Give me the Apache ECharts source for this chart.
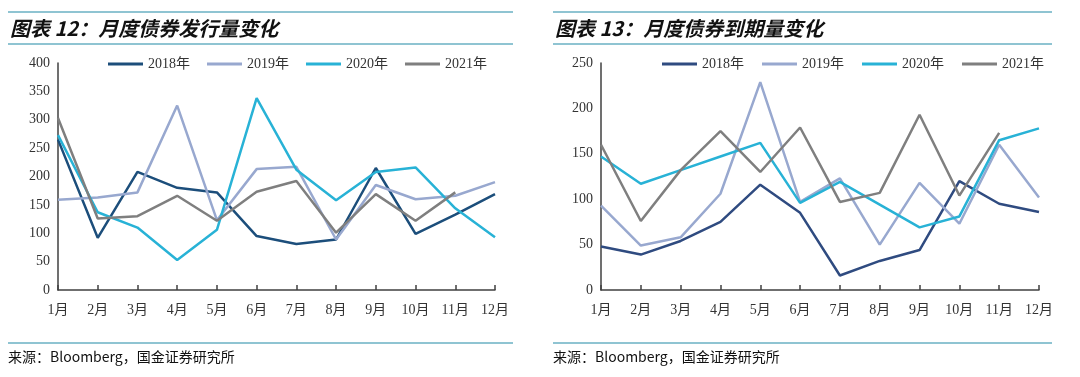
<!DOCTYPE html>
<html><head><meta charset="utf-8">
<script src="https://cdn.jsdelivr.net/npm/echarts@6/dist/echarts.min.js"></script>
<style>html,body{margin:0;padding:0;background:#fff}#c{width:1080px;height:377px}</style>
</head><body><div id="c"></div>
<script>
const months = ['1月','2月','3月','4月','5月','6月','7月','8月','9月','10月','11月','12月'];
const years = ['2018年','2019年','2020年','2021年'];
const leftTicks = {min:0, max:400, interval:50};
const rightTicks = {min:0, max:250, interval:50};
// 图表12 月度债券发行量
const issue2018 = [265, 92, 208, 180, 172, 95, 81, 89, 215, 99, 133, 169];
const issue2019 = [159, 163, 172, 325, 123, 213, 217, 89, 185, 160, 166, 190];
const issue2020 = [273, 137, 110, 53, 106, 338, 212, 158, 208, 216, 144, 93];
const issue2021 = [303, 126, 130, 166, 122, 173, 192, 101, 169, 122, 172, null];
// 图表13 月度债券到期量
const mature2018 = [48, 39, 54, 75, 116, 85, 16, 32, 44, 120, 95, 86];
const mature2019 = [93, 49, 58, 106, 229, 97, 123, 50, 118, 73, 160, 102];
const mature2020 = [147, 117, 132, 147, 162, 96, 119, 94, 69, 81, 165, 178];
const mature2021 = [160, 76, 132, 175, 130, 179, 97, 107, 193, 104, 173, null];

const leftColors = ['#1c4e7b', '#98a8cf', '#28b2d6', '#7f7f7f'];
const rightColors = ['#2f4b80', '#98a8cf', '#28b2d6', '#7f7f7f'];
const serif = "'Liberation Serif','Noto Sans CJK SC',serif";
const cjk = "'Noto Sans CJK SC','Liberation Sans',sans-serif";

function xAxis(gi){
  return {type:'category', gridIndex:gi, data:months, boundaryGap:false,
    axisLine:{lineStyle:{color:'#404040', width:1.5}},
    axisTick:{show:true, inside:true, length:5, lineStyle:{color:'#404040', width:1.5}},
    axisLabel:{color:'#333', fontFamily:serif, fontSize:14, margin:13}};
}
function yAxis(gi, t){
  return {type:'value', gridIndex:gi, min:t.min, max:t.max, interval:t.interval,
    axisLine:{show:true, lineStyle:{color:'#404040', width:1.5}},
    axisTick:{show:false}, splitLine:{show:false},
    axisLabel:{color:'#333', fontFamily:serif, fontSize:14, margin:8}};
}
function ser(name, data, color, gi){
  return {type:'line', name, data, xAxisIndex:gi, yAxisIndex:gi, symbol:'none',
    lineStyle:{color, width:2.5}, itemStyle:{color}, connectNulls:false, animation:false};
}
const issueSets = [issue2018, issue2019, issue2020, issue2021];
const matureSets = [mature2018, mature2019, mature2020, mature2021];
const series = [];
years.forEach((y,i)=>series.push(ser(y, issueSets[i], leftColors[i], 0)));
years.forEach((y,i)=>series.push(ser(y, matureSets[i], rightColors[i], 1)));

function rule(x1, x2, y){
  return {type:'line', shape:{x1, y1:y, x2, y2:y}, style:{stroke:'#8fc4d2', lineWidth:2}, silent:true};
}
function txt(x, y, text, font){
  return {type:'text', x, y, style:{text, font, fill:'#111', textVerticalAlign:'middle'}, silent:true};
}
const chart = echarts.init(document.getElementById('c'), null, {renderer:'canvas'});
chart.setOption({
  animation:false,
  backgroundColor:'#fff',
  grid:[{left:58, right:585, top:63, bottom:87}, {left:601, right:41, top:63, bottom:87}],
  xAxis:[xAxis(0), xAxis(1)],
  yAxis:[yAxis(0, leftTicks), yAxis(1, rightTicks)],
  legend:[
    {left:103, top:52, icon:'rect', itemWidth:35, itemHeight:3, itemGap:17, itemTextGap:4, selectedMode:false,
     data: years.map((y,i)=>({name:y, itemStyle:{color:leftColors[i]}})), textStyle:{fontFamily:serif, fontSize:14, color:'#333'}},
    {left:657, top:52, icon:'rect', itemWidth:35, itemHeight:3, itemGap:18, itemTextGap:4, selectedMode:false,
     data: years.map((y,i)=>({name:y, itemStyle:{color:rightColors[i]}})), textStyle:{fontFamily:serif, fontSize:14, color:'#333'}}
  ],
  series: series,
  graphic:[
    rule(8, 513, 12), rule(8, 513, 44), rule(8, 513, 343),
    rule(553, 1052, 12), rule(553, 1052, 44), rule(553, 1052, 343),
    txt(10, 28, '图表 12：月度债券发行量变化', "italic bold 20px " + cjk),
    txt(555, 28, '图表 13：月度债券到期量变化', "italic bold 20px " + cjk),
    txt(8, 357, '来源：Bloomberg，国金证券研究所', "14px " + cjk),
    txt(553, 357, '来源：Bloomberg，国金证券研究所', "14px " + cjk)
  ]
});
</script></body></html>
